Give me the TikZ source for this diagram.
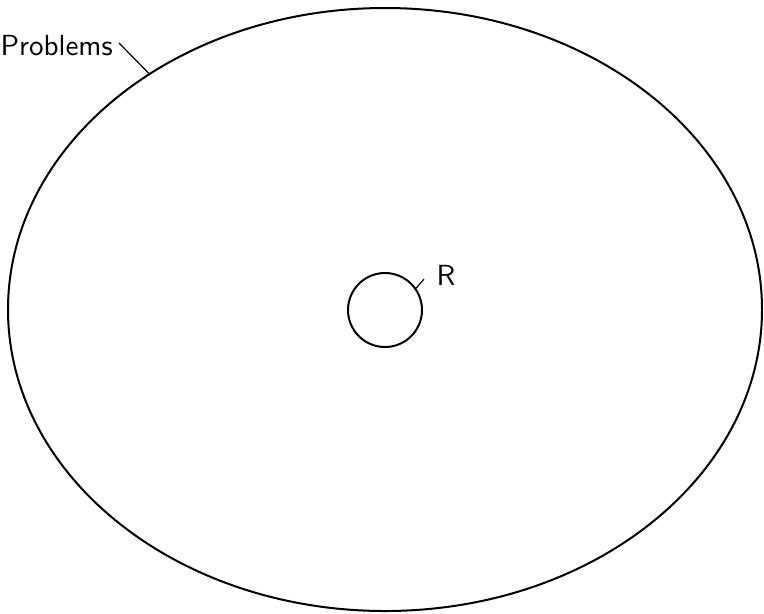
\documentclass[tikz,border=0pt]{standalone}
\usetikzlibrary{shapes.geometric}
\begin{document}
\begin{tikzpicture}[x=0.375pt,y=-0.375pt,font=\sffamily\fontsize{10.9pt}{13pt}\selectfont,
  setbox/.style={draw,ellipse,inner sep=0pt,line width=0.75pt},
  lbl/.style={inner sep=0pt,anchor=base west},
  pinline/.style={line width=0.45pt}]
\useasboundingbox (0,0) rectangle (764,613);
\node[setbox,minimum width=754*0.375pt,minimum height=603*0.375pt] (P) at (385,309.5) {};
\node[setbox,circle,minimum size=74*0.375pt] (C) at (385,310) {};
\node[lbl] (Prob) at (0,55) {Problems};
\node[lbl] (Rl) at (436,285) {R};
\coordinate (pa) at (119,43);
\coordinate (ra) at (424,279);
\draw[pinline] (pa) -- (P.135);
\draw[pinline] (C.35) -- (ra);
\end{tikzpicture}
\end{document}
